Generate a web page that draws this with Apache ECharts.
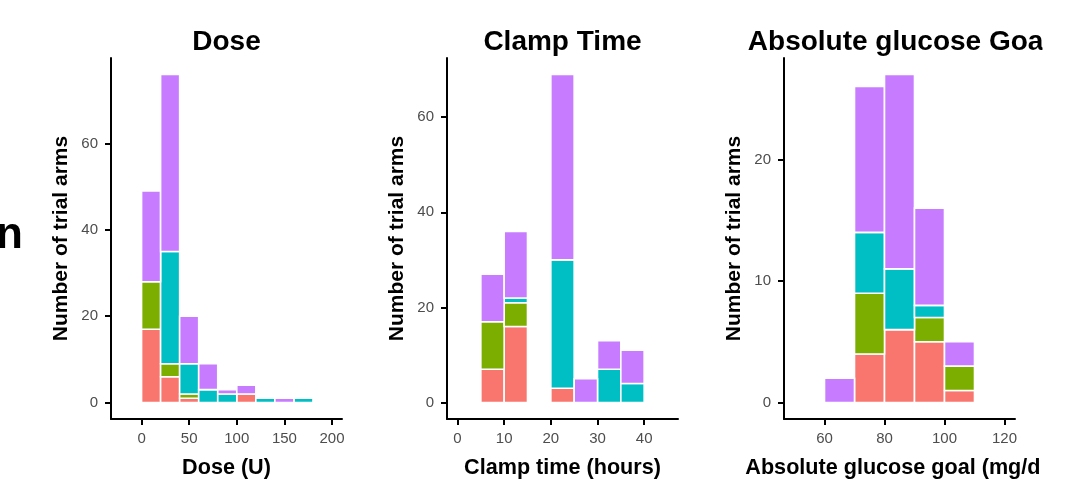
<!DOCTYPE html>
<html>
<head>
<meta charset="utf-8">
<script src="https://cdn.jsdelivr.net/npm/echarts@6/dist/echarts.min.js"></script>
<style>
  html, body { margin: 0; padding: 0; background: #fff; }
  #chart { width: 1081px; height: 486px; }
</style>
</head>
<body>
<div id="chart"></div>
<script>
// Stacked histograms of trial arms, one panel per variable.
// Each group array holds the count in each bin (bins defined by the edge arrays).

// Dose (U), bins of width 20
const doseEdges = [0, 20, 40, 60, 80, 100, 120, 140, 160, 180];
const doseRed    = [17, 6, 1, 0, 0, 2, 0, 0, 0];
const doseGreen  = [11, 3, 1, 0, 0, 0, 0, 0, 0];
const doseCyan   = [0, 26, 7, 3, 2, 0, 1, 0, 1];
const dosePurple = [21, 41, 11, 6, 1, 2, 0, 1, 0];

// Clamp time (hours), bins of width 5
const clampEdges = [5, 10, 15, 20, 25, 30, 35, 40];
const clampRed    = [7, 16, 0, 3, 0, 0, 0];
const clampGreen  = [10, 5, 0, 0, 0, 0, 0];
const clampCyan   = [0, 1, 0, 27, 0, 7, 4];
const clampPurple = [10, 14, 0, 39, 5, 6, 7];

// Absolute glucose goal (mg/dl), bins of width 10
const glucEdges = [60, 70, 80, 90, 100, 110];
const glucRed    = [0, 4, 6, 5, 1];
const glucGreen  = [0, 5, 0, 2, 2];
const glucCyan   = [0, 5, 5, 1, 0];
const glucPurple = [2, 12, 16, 8, 2];

// Axis tick values
const doseXTicks  = [0, 50, 100, 150, 200];
const doseYTicks  = [0, 20, 40, 60];
const clampXTicks = [0, 10, 20, 30, 40];
const clampYTicks = [0, 20, 40, 60];
const glucXTicks  = [60, 80, 100, 120];
const glucYTicks  = [0, 10, 20];

const panelTitles = ['Dose', 'Clamp Time', 'Absolute glucose Goal'];
const xTitles = ['Dose (U)', 'Clamp time (hours)', 'Absolute glucose goal (mg/dl)'];
const yTitle = 'Number of trial arms';

const groupColors = ['#F8766D', '#7CAE00', '#00BFC4', '#C77CFF'];
const groupNames = ['grp1', 'grp2', 'grp3', 'grp4'];

const FONT = '"Liberation Sans", Arial, Helvetica, sans-serif';

const panels = [
  { edges: doseEdges,  groups: [doseRed, doseGreen, doseCyan, dosePurple],
    xMin: -32.1, xMax: 210.5, yMin: -3.8, yMax: 79.8, xTicks: doseXTicks, yTicks: doseYTicks, left: 111 },
  { edges: clampEdges, groups: [clampRed, clampGreen, clampCyan, clampPurple],
    xMin: -2.25, xMax: 47.25, yMin: -3.45, yMax: 72.45, xTicks: clampXTicks, yTicks: clampYTicks, left: 447 },
  { edges: glucEdges,  groups: [glucRed, glucGreen, glucCyan, glucPurple],
    xMin: 46.5, xMax: 123.5, yMin: -1.35, yMax: 28.35, xTicks: glucXTicks, yTicks: glucYTicks, left: 784 }
];

const GRID_TOP = 58, GRID_H = 361, GRID_W = 231;

function renderRect(params, api) {
  const topLeft = api.coord([api.value(0), api.value(3)]);
  const botRight = api.coord([api.value(1), api.value(2)]);
  return {
    type: 'rect',
    shape: { x: topLeft[0], y: topLeft[1], width: botRight[0] - topLeft[0], height: botRight[1] - topLeft[1] },
    style: { fill: api.visual('color'), stroke: '#ffffff', lineWidth: 1.6 }
  };
}

const grids = [], xAxes = [], yAxes = [], series = [], graphics = [];

panels.forEach((p, i) => {
  grids.push({ left: p.left, top: GRID_TOP, width: GRID_W, height: GRID_H });

  const axisCommon = {
    type: 'value',
    gridIndex: i,
    axisLine: { show: true, onZero: false, lineStyle: { color: '#000', width: 2 } },
    axisTick: { show: true, length: 6, lineStyle: { color: '#000', width: 2 } },
    splitLine: { show: false },
    axisLabel: { color: '#4D4D4D', fontSize: 15, fontFamily: FONT }
  };
  xAxes.push(Object.assign({}, axisCommon, {
    min: p.xMin, max: p.xMax,
    axisTick: Object.assign({}, axisCommon.axisTick, { customValues: p.xTicks }),
    axisLabel: Object.assign({}, axisCommon.axisLabel, { customValues: p.xTicks, margin: 12 })
  }));
  yAxes.push(Object.assign({}, axisCommon, {
    min: p.yMin, max: p.yMax,
    axisTick: Object.assign({}, axisCommon.axisTick, { customValues: p.yTicks }),
    axisLabel: Object.assign({}, axisCommon.axisLabel, { customValues: p.yTicks, margin: 13 })
  }));

  // stack the groups bin by bin
  const base = new Array(p.edges.length - 1).fill(0);
  p.groups.forEach((counts, g) => {
    const data = [];
    counts.forEach((c, b) => {
      if (c > 0) data.push([p.edges[b], p.edges[b + 1], base[b], base[b] + c]);
      base[b] += c;
    });
    series.push({
      type: 'custom',
      name: groupNames[g],
      xAxisIndex: i, yAxisIndex: i,
      itemStyle: { color: groupColors[g] },
      renderItem: renderRect,
      encode: { x: [0, 1], y: [2, 3] },
      data: data,
      silent: true
    });
  });

  const cx = p.left + GRID_W / 2;
  graphics.push({
    type: 'text', x: cx, y: 42,
    style: { text: panelTitles[i], align: 'center', verticalAlign: 'middle',
             font: 'bold 28px ' + FONT, fill: '#000' }
  });
  graphics.push({
    type: 'text', x: cx, y: 468,
    style: { text: xTitles[i], align: 'center', verticalAlign: 'middle',
             font: 'bold 21.6px ' + FONT, fill: '#000' }
  });
  graphics.push({
    type: 'text', x: p.left - 50, y: GRID_TOP + GRID_H / 2, rotation: Math.PI / 2,
    style: { text: yTitle, align: 'center', verticalAlign: 'middle',
             font: 'bold 21px ' + FONT, fill: '#000' }
  });
});

// stray letter of the neighbouring label on the left edge
graphics.push({
  type: 'text', x: 23, y: 236,
  style: { text: 'n', align: 'right', verticalAlign: 'middle', font: 'bold 44px ' + FONT, fill: '#000' }
});
// right margin of the figure cuts the last panel's titles
graphics.push({
  type: 'rect', shape: { x: 1042.5, y: 0, width: 40, height: 486 },
  style: { fill: '#ffffff' }, z: 100
});
graphics.push({
  type: 'rect', shape: { x: 1040.5, y: 450, width: 42, height: 36 },
  style: { fill: '#ffffff' }, z: 100
});

const chart = echarts.init(document.getElementById('chart'), null, { renderer: 'canvas' });
chart.setOption({
  animation: false,
  backgroundColor: '#ffffff',
  grid: grids,
  xAxis: xAxes,
  yAxis: yAxes,
  series: series,
  graphic: graphics
});
</script>
</body>
</html>
